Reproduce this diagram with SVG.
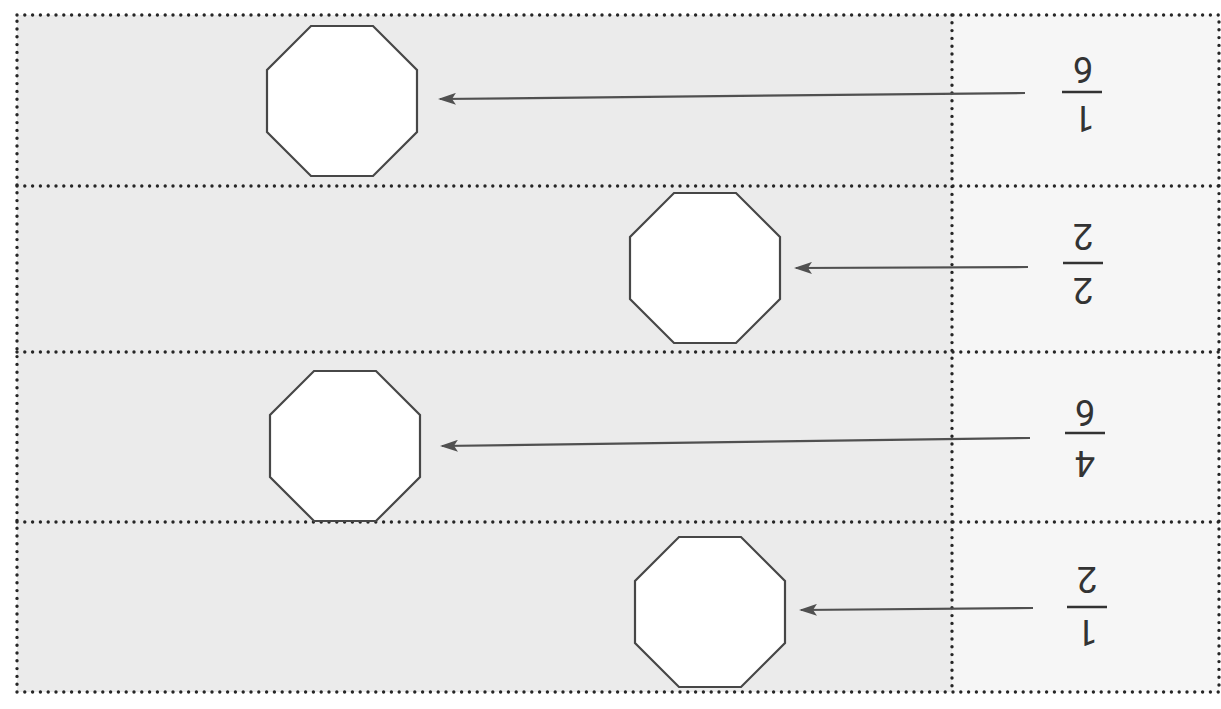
<svg xmlns="http://www.w3.org/2000/svg" width="1221" height="709" viewBox="0 0 1221 709">
<style>
.dot{fill:none;stroke:#262626;stroke-width:3.4;stroke-linecap:round;stroke-dasharray:0 7.8}
.oct{fill:#ffffff;stroke:#474747;stroke-width:2.2;stroke-linejoin:miter}
.arr{fill:none;stroke:#505050;stroke-width:2.2}
.bar{stroke:#333;stroke-width:2.6}
.num{font-size:36px;fill:#333;text-anchor:middle}
</style>
<defs>
<marker id="ah" viewBox="0 0 18 12" refX="16" refY="6" markerWidth="18" markerHeight="12" markerUnits="userSpaceOnUse" orient="auto">
<path d="M18,6 L0,0 L4,6 L0,12 Z" fill="#505050"/>
</marker>
<polygon id="octshape" points="-31,-75 31,-75 75,-31 75,31 31,75 -31,75 -75,31 -75,-31"/>
</defs>
<rect width="1221" height="709" fill="#ffffff"/>
<rect x="17" y="15" width="935" height="677" fill="#ebebeb"/>
<rect x="952" y="15" width="267" height="677" fill="#f6f6f6"/>
<g id="grid">
<rect class="dot" x="17" y="15" width="1202" height="677"/>
<line class="dot" x1="952" y1="15" x2="952" y2="692"/>
<line class="dot" x1="17" y1="186" x2="1219" y2="186"/>
<line class="dot" x1="17" y1="352" x2="1219" y2="352"/>
<line class="dot" x1="17" y1="522" x2="1219" y2="522"/>
</g>
<g id="connectors">
<line class="arr" x1="1025" y1="93" x2="440" y2="99" marker-end="url(#ah)"/>
<line class="arr" x1="1028" y1="267" x2="796" y2="268" marker-end="url(#ah)"/>
<line class="arr" x1="1030" y1="438" x2="442" y2="446" marker-end="url(#ah)"/>
<line class="arr" x1="1033" y1="608" x2="801" y2="610" marker-end="url(#ah)"/>
</g>
<g id="oct1"><use href="#octshape" class="oct" transform="translate(342,101)"/></g>
<g id="oct2"><use href="#octshape" class="oct" transform="translate(705,268)"/></g>
<g id="oct3"><use href="#octshape" class="oct" transform="translate(345,446)"/></g>
<g id="oct4"><use href="#octshape" class="oct" transform="translate(710,612)"/></g>
<g id="frac1" font-family="Roboto, Liberation Sans, sans-serif">
<line class="bar" x1="1062" y1="92" x2="1102" y2="92"/>
<text class="num" x="1083" y="83" transform="rotate(180 1083 70)">6</text>
<text class="num" x="1084" y="132" transform="rotate(180 1084 119)">1</text>
</g>
<g id="frac2" font-family="Roboto, Liberation Sans, sans-serif">
<line class="bar" x1="1063" y1="263" x2="1103" y2="263"/>
<text class="num" x="1083" y="250" transform="rotate(180 1083 237)">2</text>
<text class="num" x="1083" y="304" transform="rotate(180 1083 291)">2</text>
</g>
<g id="frac3" font-family="Roboto, Liberation Sans, sans-serif">
<line class="bar" x1="1065" y1="433" x2="1105" y2="433"/>
<text class="num" x="1085" y="426" transform="rotate(180 1085 413)">6</text>
<text class="num" x="1085" y="477" transform="rotate(180 1085 464)">4</text>
</g>
<g id="frac4" font-family="Roboto, Liberation Sans, sans-serif">
<line class="bar" x1="1067" y1="607" x2="1107" y2="607"/>
<text class="num" x="1087" y="593" transform="rotate(180 1087 580)">2</text>
<text class="num" x="1087" y="646" transform="rotate(180 1087 633)">1</text>
</g>
</svg>
